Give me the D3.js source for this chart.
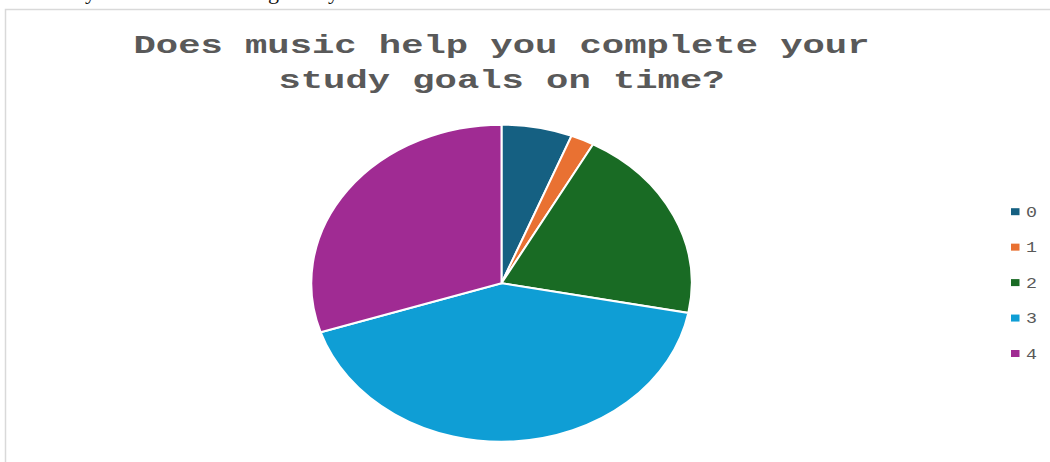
<!DOCTYPE html>
<html>
<head>
<meta charset="utf-8">
<script src="https://cdn.jsdelivr.net/npm/d3@7/dist/d3.min.js"></script>
<style>
  html, body { margin: 0; padding: 0; background: #ffffff; }
  svg { display: block; }
</style>
</head>
<body>
<script>
// Survey answers: "Does music help you complete your study goals on time?"
const categories = ["0", "1", "2", "3", "4"];
const counts = [3, 1, 10, 21, 15];
const sliceColors = ["#156082", "#E97132", "#196B24", "#0F9ED5", "#A02B93"];
const titleLines = ["Does music help you complete your", "study goals on time?"];

const W = 1050, H = 462;
const cx = 501.5, cy = 283.2;
const ry = 158.5, stretch = 1.2;   // pie is drawn slightly wider than tall

const svg = d3.select("body").append("svg")
  .attr("width", W).attr("height", H);

// tail of the text line printed above the chart frame
svg.selectAll("text.above")
  .data([{ t: "y", x: 85 }, { t: "g", x: 268 }, { t: "y", x: 328 }])
  .join("text")
  .attr("class", "above")
  .attr("x", d => d.x).attr("y", -1)
  .attr("font-family", "Liberation Serif, serif")
  .attr("font-size", 22)
  .attr("fill", "#111")
  .text(d => d.t);

// chart frame
svg.append("rect")
  .attr("x", 5.5).attr("y", 9.5)
  .attr("width", W + 20).attr("height", H + 20)
  .attr("fill", "none")
  .attr("stroke", "#d9d9d9")
  .attr("stroke-width", 1.5);

// title
svg.selectAll("text.title")
  .data(titleLines)
  .join("text")
  .attr("class", "title")
  .attr("x", cx)
  .attr("y", (d, i) => 52.5 + i * 35.5)
  .attr("text-anchor", "middle")
  .attr("font-family", "Liberation Mono, monospace")
  .attr("font-weight", "bold")
  .attr("font-size", 26)
  .attr("fill", "#595959")
  .attr("textLength", d => d.length * 22.3)
  .attr("lengthAdjust", "spacingAndGlyphs")
  .text(d => d);

// pie
const color = d3.scaleOrdinal().domain(categories).range(sliceColors);
const pie = d3.pie().sort(null).value(d => d.value);
const arc = d3.arc().innerRadius(0).outerRadius(ry);
const data = categories.map((c, i) => ({ cat: c, value: counts[i] }));

const g = svg.append("g")
  .attr("transform", `translate(${cx},${cy}) scale(${stretch},1)`);

g.selectAll("path")
  .data(pie(data))
  .join("path")
  .attr("d", arc)
  .attr("fill", d => color(d.data.cat))
  .attr("stroke", "#ffffff")
  .attr("stroke-width", 2)
  .attr("vector-effect", "non-scaling-stroke");

// legend
const legendY = d3.scalePoint().domain(categories).range([211.7, 353.5]);
const legend = svg.append("g");
const items = legend.selectAll("g")
  .data(categories)
  .join("g")
  .attr("transform", d => `translate(1011,${legendY(d)})`);

items.append("rect")
  .attr("x", 0).attr("y", -3.5)
  .attr("width", 8.5).attr("height", 7)
  .attr("fill", d => color(d));

items.append("text")
  .attr("x", 15).attr("y", 5)
  .attr("font-family", "Liberation Mono, monospace")
  .attr("font-size", 15)
  .attr("fill", "#595959")
  .attr("textLength", 11)
  .attr("lengthAdjust", "spacingAndGlyphs")
  .text(d => d);
</script>
</body>
</html>
